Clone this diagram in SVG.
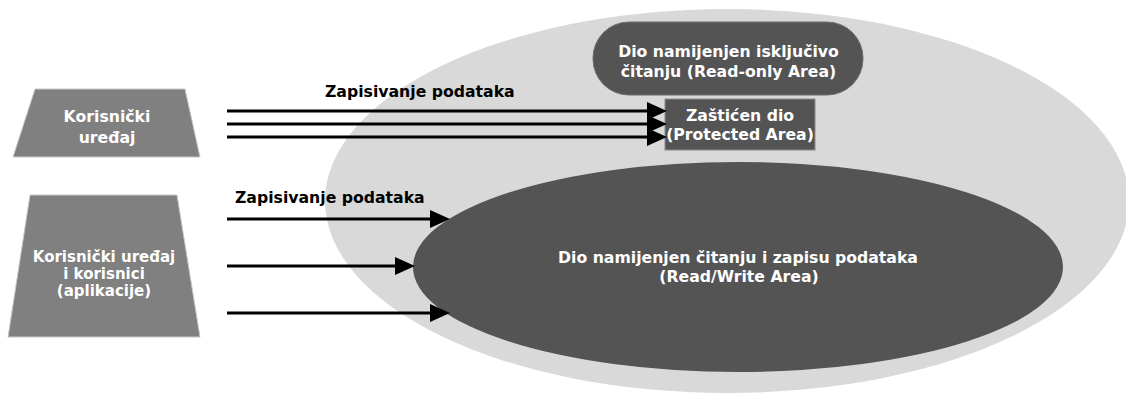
<svg xmlns="http://www.w3.org/2000/svg" width="1126" height="394" viewBox="0 0 1126 394">
  <defs>
    <marker id="ah" markerUnits="userSpaceOnUse" markerWidth="20" markerHeight="18" refX="0" refY="9" orient="auto">
      <path d="M0,0 L20,9 L0,18 z" fill="#000"/>
    </marker>
    <style>
      .t { font-family: "DejaVu Sans", Verdana, sans-serif; font-weight: bold; font-size: 15.7px; }
      .s { font-size: 15px; }
      .w { fill: #ffffff; text-anchor: middle; }
      .k { fill: #000000; }
      .trap { fill: #808080; stroke: #c8c8c8; stroke-width: 1; }
      .dark { fill: #545454; }
      .conn { stroke: #000; stroke-width: 3; fill: none; marker-end: url(#ah); }
    </style>
  </defs>
  <rect width="1126" height="394" fill="#ffffff"/>

  <g id="card">
    <ellipse cx="727" cy="201" rx="402" ry="192" fill="#d9d9d9"/>
  </g>

  <g id="readonly">
    <rect x="593" y="22" width="270" height="73" rx="36" ry="36" class="dark" stroke="#6e6e6e" stroke-width="1"/>
    <text class="t w" x="728.5" y="57">Dio namijenjen isključivo</text>
    <text class="t w" x="728.5" y="77">čitanju (Read-only Area)</text>
  </g>

  <g id="protected">
    <rect x="665" y="99" width="150" height="51" class="dark" stroke="#8a8a8a" stroke-width="1"/>
    <text class="t w" x="740" y="121">Zaštićen dio</text>
    <text class="t w" x="740" y="140">(Protected Area)</text>
  </g>

  <g id="readwrite">
    <ellipse cx="738" cy="267" rx="325" ry="105" class="dark"/>
    <text class="t w" x="738" y="263">Dio namijenjen čitanju i zapisu podataka</text>
    <text class="t w" x="739" y="282">(Read/Write Area)</text>
  </g>

  <g id="device">
    <polygon points="35,89 185,89 200,157 13,157" class="trap"/>
    <text class="t w" x="107" y="122">Korisnički</text>
    <text class="t w" x="107" y="143">uređaj</text>
  </g>

  <g id="users">
    <polygon points="30,195 177,195 200,337 8,337" class="trap"/>
    <text class="t s w" x="104" y="262">Korisnički uređaj</text>
    <text class="t s w" x="104" y="279">i korisnici</text>
    <text class="t s w" x="104" y="296">(aplikacije)</text>
  </g>

  <g id="connectors">
    <line x1="227" y1="111" x2="647" y2="111" class="conn"/>
    <line x1="227" y1="124" x2="647" y2="124" class="conn"/>
    <line x1="227" y1="137" x2="647" y2="137" class="conn"/>
    <text class="t k" x="325" y="97">Zapisivanje podataka</text>
    <line x1="227" y1="219" x2="430" y2="219" class="conn"/>
    <line x1="227" y1="266" x2="395" y2="266" class="conn"/>
    <line x1="227" y1="313" x2="430" y2="313" class="conn"/>
    <text class="t k" x="235" y="203">Zapisivanje podataka</text>
  </g>
</svg>
